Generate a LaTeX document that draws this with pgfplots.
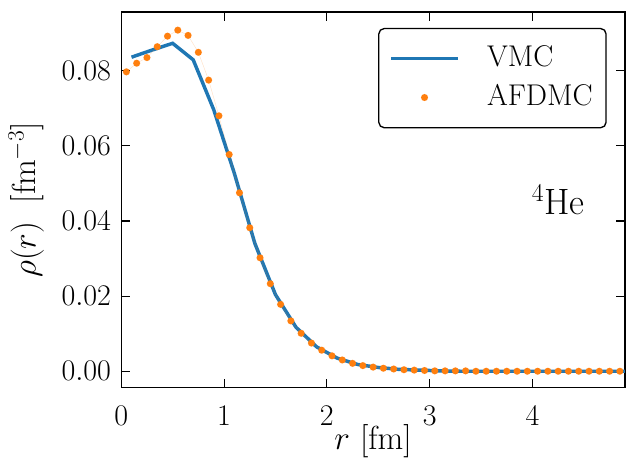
\RequirePackage{fix-cm}
\documentclass[border=0pt]{standalone}
\usepackage{pgfplots}
\pgfplotsset{compat=1.18}
\definecolor{mplblue}{HTML}{1F77B4}
\definecolor{mplorange}{HTML}{FF7F0E}
\pgfplotsset{
  longline legend/.style={legend image code/.code={\draw[##1] (0pt,0pt) -- (50pt,0pt); \path[draw=none] (0pt,0pt) -- (70pt,0pt);}},
  dot legend/.style={legend image code/.code={\fill[mplorange] (25pt,0pt) circle (2.6pt); \path[draw=none] (0pt,0pt) -- (70pt,0pt);}},
}
\begin{document}
\fontsize{22.5}{27}\selectfont
\begin{tikzpicture}
\begin{axis}[
  scale only axis,
  width=378pt, height=281.9pt,
  xmin=0, xmax=4.9,
  ymin=-0.00441, ymax=0.0956,
  xtick={0,1,2,3,4},
  ytick={0,0.02,0.04,0.06,0.08},
  yticklabel style={/pgf/number format/fixed,/pgf/number format/fixed zerofill,/pgf/number format/precision=2},
  scaled y ticks=false,
  tick align=inside,
  tick pos=both,
  major tick length=6.5pt,
  every tick/.style={black, line width=0.8pt},
  axis line style={line width=1pt},
  tick label style={font=\fontsize{22.5}{27}\selectfont},
  label style={font=\fontsize{25}{30}\selectfont},
  xticklabel style={yshift=-6pt},
  xlabel={$r$\ [fm]},
  ylabel={$\rho(r)$\ \hspace{0.25em}[fm$^{-3}$]},
  xlabel style={yshift=15.5pt},
  ylabel style={yshift=-2pt},
  legend style={at={(0.51,0.958)}, anchor=north west, draw=black, line width=1pt, rounded corners=4pt,
    font=\fontsize{22.5}{27}\selectfont, inner xsep=8pt, inner ysep=11pt, row sep=6pt},
  legend cell align=left,
]
\addplot[mplblue, line width=2.6pt, longline legend] coordinates {
(0.1,0.0836) (0.3,0.0855) (0.5,0.0873) (0.7,0.0829) (0.9,0.0696) (1.1,0.0527)
(1.3,0.0340) (1.5,0.0204) (1.7,0.0117) (1.9,0.0065) (2.1,0.0035) (2.3,0.0018)
(2.5,0.0010) (2.7,0.0005) (2.9,0.0003) (3.1,0.0001) (3.3,0.0) (3.5,0.0)
(3.7,0.0) (3.9,0.0) (4.1,0.0) (4.3,0.0) (4.5,0.0) (4.7,0.0) (4.9,0.0)
};
\addlegendentry{VMC}
\addplot[mplorange, line width=0.3pt, draw opacity=0.25, mark=*, mark size=2.6pt, mark options={draw=none, fill=mplorange, fill opacity=1}, dot legend] coordinates {
(0.05,0.0797) (0.15,0.0820) (0.25,0.0835) (0.35,0.0864) (0.45,0.0892) (0.55,0.0908)
(0.65,0.0894) (0.75,0.0849) (0.85,0.0775) (0.95,0.0680) (1.05,0.0577) (1.15,0.0475)
(1.25,0.0382) (1.35,0.0302) (1.45,0.0233) (1.55,0.0178) (1.65,0.0134) (1.75,0.0101)
(1.85,0.0075) (1.95,0.0056) (2.05,0.0041) (2.15,0.0030) (2.25,0.0021) (2.35,0.0015)
(2.45,0.0011) (2.55,0.0008) (2.65,0.0006) (2.75,0.0004) (2.85,0.0003) (2.95,0.0002)
(3.05,0.0001) (3.15,0.0001) (3.25,0.0001) (3.35,0.0001) (3.45,0.0) (3.55,0.0)
(3.65,0.0) (3.75,0.0) (3.85,0.0) (3.95,0.0) (4.05,0.0) (4.15,0.0) (4.25,0.0)
(4.35,0.0) (4.45,0.0) (4.55,0.0) (4.65,0.0) (4.75,0.0) (4.85,0.0)
};
\addlegendentry{AFDMC}
\node[font=\fontsize{27.5}{33}\selectfont] at (axis cs:4.25,0.0457) {$^4$He};
\end{axis}
\pgfresetboundingbox
\path (-90.98pt,-59.25pt) rectangle (378.75pt,291pt);
\end{tikzpicture}
\end{document}
